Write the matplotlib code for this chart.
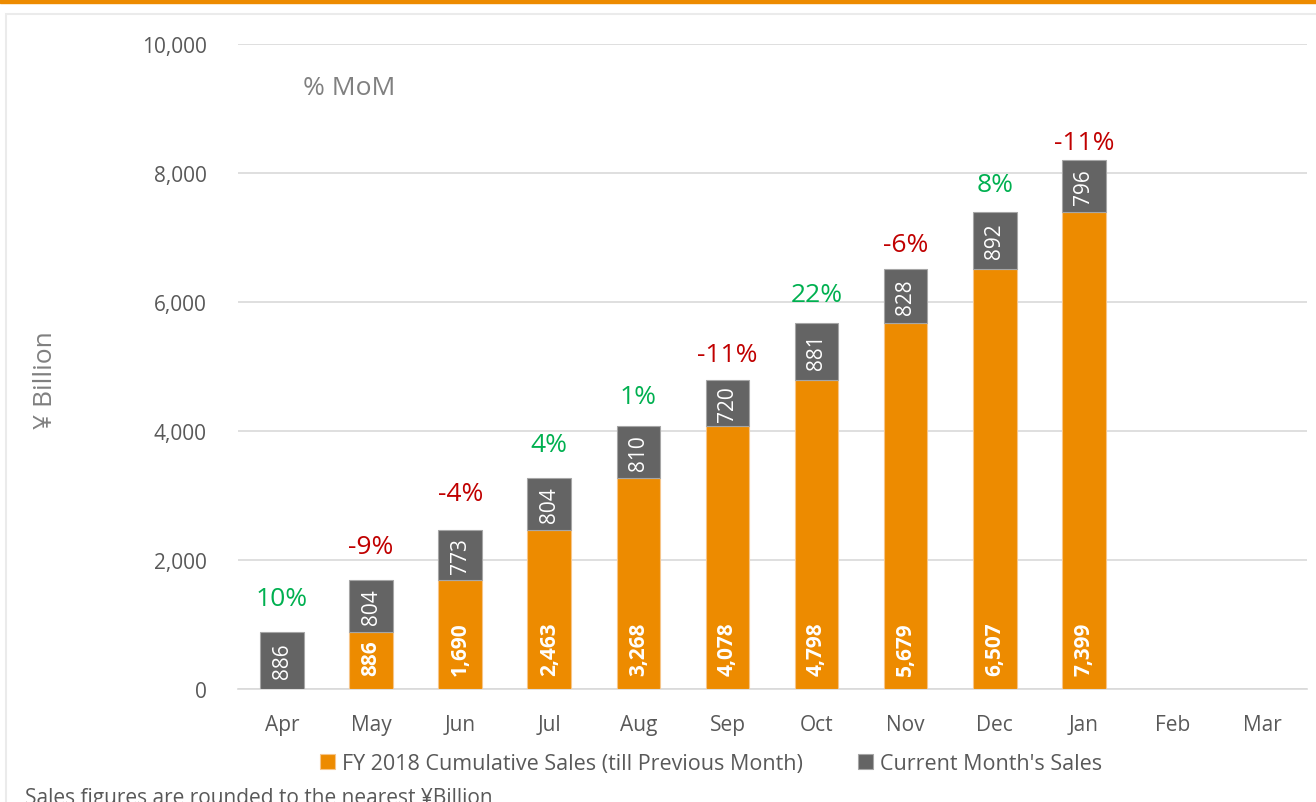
import numpy as np
import matplotlib.pyplot as plt
from matplotlib.patches import Rectangle

months = ['Apr', 'May', 'Jun', 'Jul', 'Aug', 'Sep', 'Oct', 'Nov', 'Dec', 'Jan', 'Feb', 'Mar']
cumulative = [0, 886, 1690, 2463, 3268, 4078, 4798, 5679, 6507, 7399]
current = [886, 804, 773, 804, 810, 720, 881, 828, 892, 796]
mom = [10, -9, -4, 4, 1, -11, 22, -6, 8, -11]

# hand placed gap (px) between bar top and its % label, as in the original
mom_gap = [33, 33, 37, 34, 29, 25, 28, 25, 27, 18]

ORANGE = '#ED8B00'
GREY = '#646464'
TEXT = '#595959'
GREEN = '#00B050'
RED = '#C00000'

plt.rcParams['font.family'] = ['Open Sans', 'DejaVu Sans']

fig = plt.figure(figsize=(13.16, 8.03), dpi=100)
# orange band on top and light frame
fig.patches.append(Rectangle((0, 1 - 4 / 803), 1, 4 / 803, transform=fig.transFigure,
                             color=ORANGE, zorder=0))
fig.patches.append(Rectangle((6 / 1316, -0.01), 1.0, 1 - 15 / 803 + 0.01, transform=fig.transFigure,
                             fill=False, ec='#EBEBEB', lw=1.5, zorder=0))

ax = fig.add_axes([237.5 / 1316, 1 - 690 / 803, 1069 / 1316, 645 / 803])
x = np.arange(len(cumulative))
w = 0.49

ax.bar(x, cumulative, width=w, color=ORANGE, ec='#F6C58A', lw=0.8, zorder=3,
       label='FY 2018 Cumulative Sales (till Previous Month)')
ax.bar(x, current, bottom=cumulative, width=w, color=GREY, ec='#A6A6A6', lw=0.8, zorder=3,
       label="Current Month's Sales")

for i in range(len(cumulative)):
    if cumulative[i] > 0:
        ax.text(x[i], 210, f'{cumulative[i]:,}', rotation=90, ha='center', va='bottom',
                color='white', fontsize=15, fontweight='bold', zorder=4)
    ax.text(x[i], cumulative[i] + current[i] / 2, f'{current[i]:,}', rotation=90,
            ha='center', va='center', color='white', fontsize=15, zorder=4)
    top = cumulative[i] + current[i]
    ax.annotate(f'{mom[i]}%', xy=(x[i], top), xytext=(0, mom_gap[i] * 0.72),
                textcoords='offset points', ha='center', va='center',
                color=GREEN if mom[i] > 0 else RED, fontsize=19, zorder=4)

ax.text(0.23, 9330, '% MoM', ha='left', va='center', color='#808080', fontsize=19)

ax.set_xlim(-0.5, 11.5)
ax.set_ylim(0, 10000)
ax.set_xticks(np.arange(len(months)))
ax.set_xticklabels(months)
ax.set_yticks(np.arange(0, 10001, 2000))
ax.set_yticklabels([f'{v:,}' for v in range(0, 10001, 2000)])
ax.tick_params(axis='both', length=0, labelsize=15, labelcolor=TEXT)
ax.tick_params(axis='y', pad=22)
ax.tick_params(axis='x', pad=18)
ax.yaxis.grid(True, color='#D9D9D9', lw=1.2, zorder=0)
ax.set_axisbelow(True)
for s in ['top', 'right', 'left']:
    ax.spines[s].set_visible(False)
ax.spines['bottom'].set_color('#D9D9D9')
ax.spines['bottom'].set_linewidth(1.2)

fig.text(45 / 1316, 1 - 380 / 803, '¥ Billion', rotation=90, ha='center', va='center',
         color='#808080', fontsize=19)

ax.legend(loc='center', bbox_to_anchor=(0.443, -0.115), ncol=2, frameon=False,
          fontsize=15.5, labelcolor=TEXT, handlelength=0.7, handleheight=0.7,
          handletextpad=0.3, columnspacing=2.6)

fig.text(25 / 1316, 1 - 799 / 803, 'Sales figures are rounded to the nearest ¥Billion',
         ha='left', va='center', color=TEXT, fontsize=15)

fig.savefig('out.png', dpi=100)
